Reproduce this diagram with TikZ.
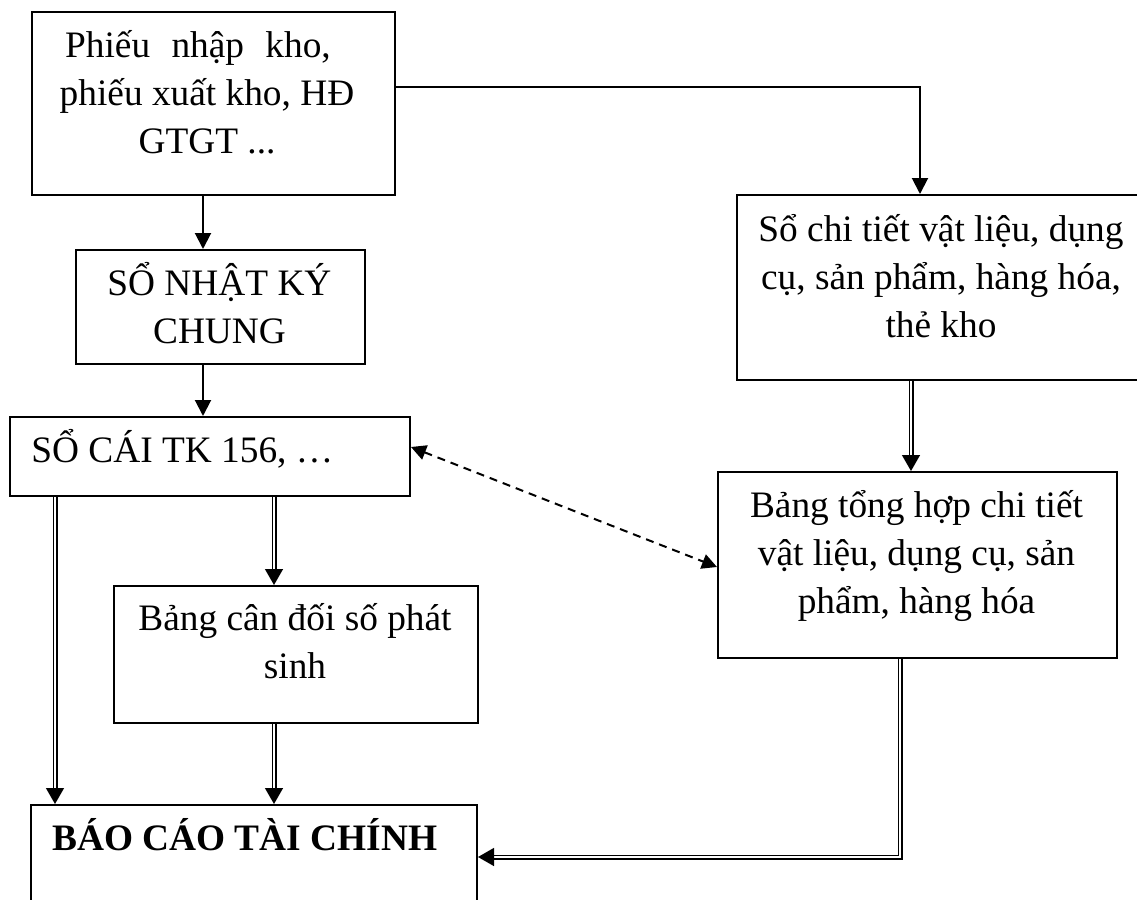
\documentclass[tikz,border=0pt]{standalone}
\usepackage{fontspec}
\setmainfont{Liberation Serif}
\usetikzlibrary{arrows.meta}
\begin{document}
\begin{tikzpicture}[x=0.5pt,y=-0.5pt,
  box/.style={draw,line width=1pt,inner sep=0pt,anchor=north west},
  lbl/.style={inner sep=0pt,font=\fontsize{18.67pt}{24pt}\selectfont,
    text width=200pt,align=flush center,anchor=base},
  lbll/.style={inner sep=0pt,font=\fontsize{18.67pt}{24pt}\selectfont,anchor=base west},
  arr/.style={line width=1pt,-{Triangle[length=8pt,width=8pt]}},
  darr/.style={double,double distance=1.1pt,line width=0.7pt,
    -{Triangle[length=8pt,width=9pt]}},
  dasharr/.style={line width=1pt,dash pattern=on 4pt off 3pt,
    {Triangle[length=7.5pt,width=7.5pt]}-{Triangle[length=7.5pt,width=7.5pt]}}]
\useasboundingbox (0,0) rectangle (1137,900);
\clip (0,0) rectangle (1137,900);

% boxes (top-left corner, size)
\node[box,minimum width=181.5pt,minimum height=91.5pt] (b1) at (31,11) {};
\node[box,minimum width=144.5pt,minimum height=57pt]   (nkc) at (75,249) {};
\node[box,minimum width=200pt,minimum height=39.5pt]   (sc) at (9,416) {};
\node[box,minimum width=182pt,minimum height=68.5pt]   (cd) at (113,585) {};
\node[box,minimum width=223pt,minimum height=63pt]     (bc) at (30,804) {};
\node[box,minimum width=205pt,minimum height=92.5pt]   (ct) at (736,194) {};
\node[box,minimum width=199.5pt,minimum height=93pt]   (th) at (717,471) {};

% box texts
\node[lbl] (b1t) at (207,57) {Phiếu\hspace{6pt} nhập\hspace{6pt} kho,\kern9pt\\phiếu xuất kho, HĐ\\GTGT ...};
\node[lbl] (nkct) at (219.5,295) {SỔ NHẬT KÝ\\CHUNG};
\node[lbll] (sct) at (31,462) {SỔ CÁI TK 156, …};
\node[lbl] (cdt) at (295,630) {Bảng cân đối số phát\\sinh};
\node[lbll,font=\fontsize{18.67pt}{24pt}\selectfont\bfseries] (bct) at (52,850) {BÁO CÁO TÀI CHÍNH};
\node[lbl] (ctt) at (941,241) {Sổ chi tiết vật liệu, dụng\\cụ, sản phẩm, hàng hóa,\\thẻ kho};
\node[lbl] (tht) at (916.5,517) {Bảng tổng hợp chi tiết\\vật liệu, dụng cụ, sản\\phẩm, hàng hóa};

% connector columns and rows
\coordinate (colA) at (203,0);
\coordinate (colL) at (55,0);
\coordinate (colM) at (274,0);
\coordinate (colR) at (920,0);
\coordinate (colS) at (911,0);
\coordinate (colT) at (900,0);
\coordinate (rowTop) at (0,87);
\coordinate (rowDash1) at (0,447);
\coordinate (rowDash2) at (0,567);
\coordinate (rowBot) at (0,857);

% single arrows
\draw[arr] (b1.south -| colA) -- (nkc.north -| colA);
\draw[arr] (nkc.south -| colA) -- (sc.north -| colA);
\draw[arr] (b1.east |- rowTop) -| (ct.north -| colR);

% double arrows
\draw[darr] (sc.south -| colL) -- (bc.north -| colL);
\draw[darr] (sc.south -| colM) -- (cd.north -| colM);
\draw[darr] (cd.south -| colM) -- (bc.north -| colM);
\draw[darr] (ct.south -| colS) -- (th.north -| colS);
\draw[darr] (th.south -| colT) |- (bc.east |- rowBot);

% dashed two-way link
\draw[dasharr] (sc.east |- rowDash1) -- (th.west |- rowDash2);
\end{tikzpicture}
\end{document}
